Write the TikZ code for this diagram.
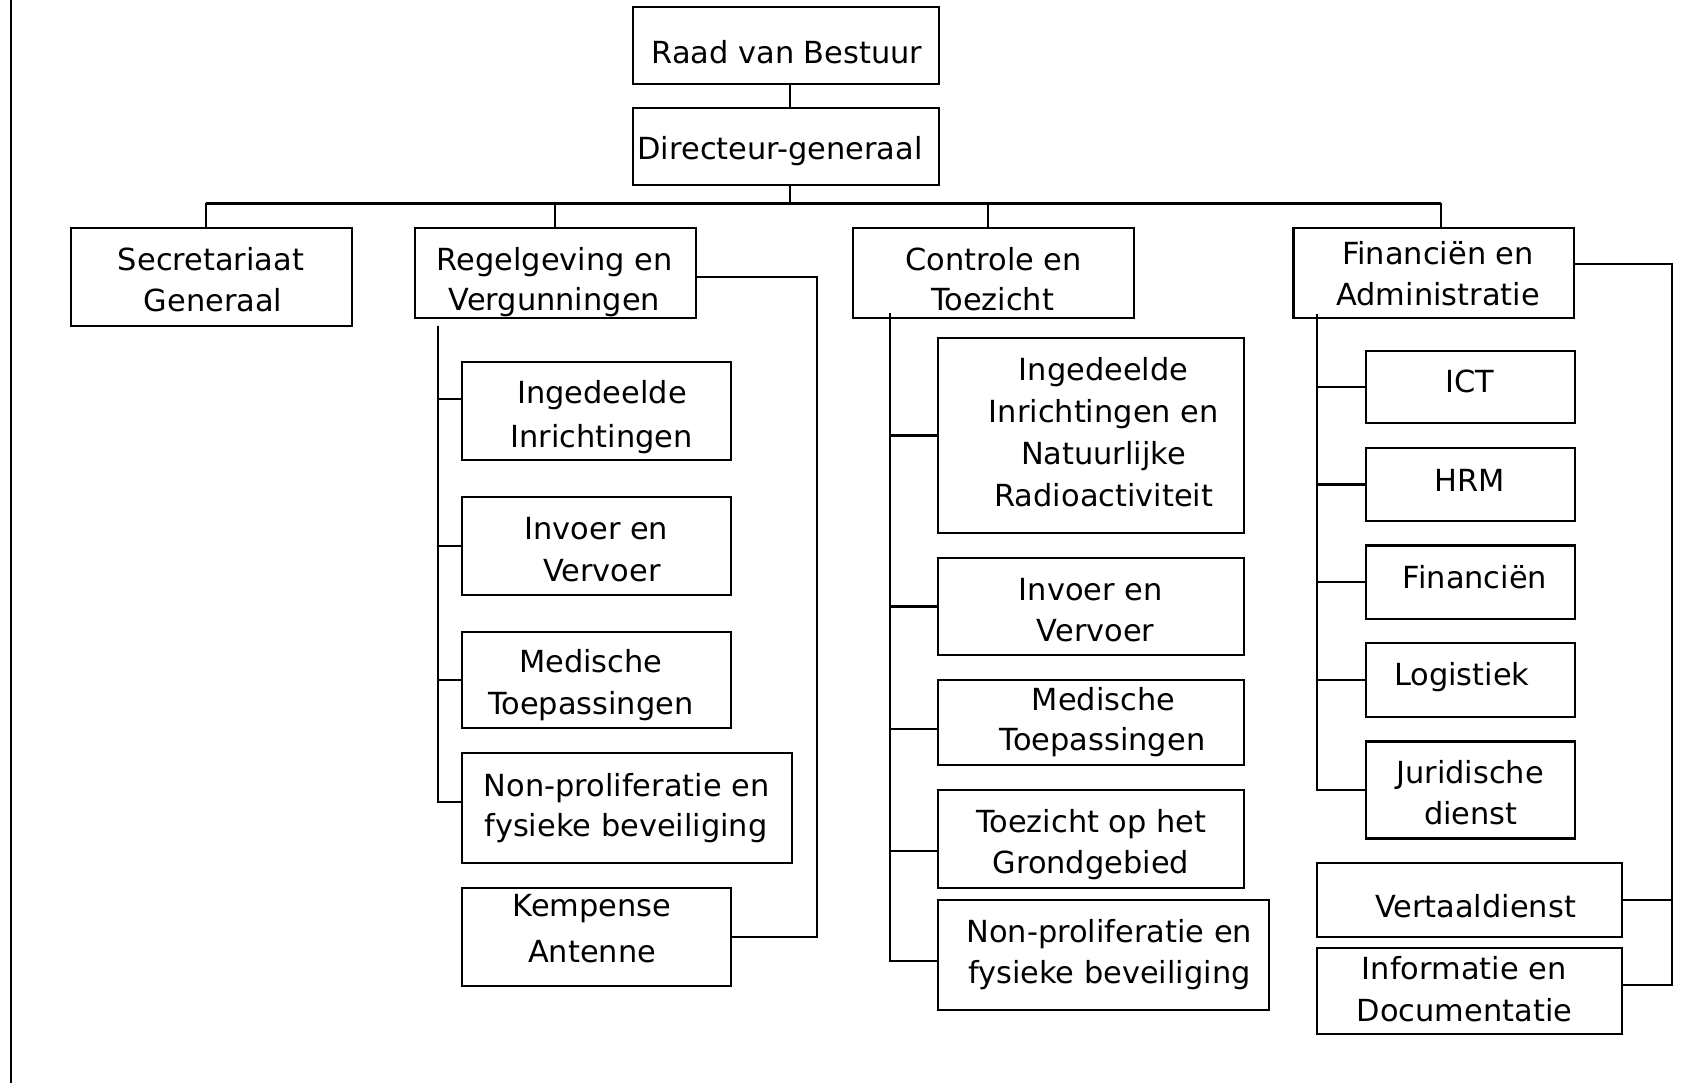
\documentclass[tikz,border=0pt]{standalone}
\usepackage{fontspec}
\setmainfont{DejaVu Sans}
\usetikzlibrary{fit}
\tikzset{
  box/.style={draw, line width=0.6pt, inner sep=0pt},
  lbl/.style={anchor=base, inner sep=0pt, font=\fontsize{8.65pt}{11pt}\selectfont},
  conn/.style={line width=0.6pt},
}
\newcommand\bx[5]{\node[box, fit={(#2,#3) (#4,#5)}] (#1) {};}
\newcommand\tl[4]{\node[lbl] (#1) at (#2,#3) {#4};}
\begin{document}
\begin{tikzpicture}[x=0.01cm,y=-0.01cm]
\useasboundingbox (0,0) rectangle (1706,1083);
% page frame line
\coordinate (ftop) at (11,0);
\coordinate (fbot) at (11,1083);
\draw[line width=0.8pt] (ftop) -- (fbot);

% top
\bx{raad}{632.7}{7.3}{939}{84.3}
\tl{traad}{787}{63.3}{Raad van Bestuur}
\bx{dg}{632.7}{107.7}{939}{185}
\tl{tdg}{780}{159.3}{Directeur-generaal}

% level 2
\bx{sec}{71.3}{227.7}{351.6}{325.7}
\tl{tsec1}{211}{271}{Secretariaat}
\tl{tsec2}{213}{311.7}{Generaal}
\bx{reg}{415}{227.7}{695.6}{318.3}
\tl{treg1}{554.6}{270.7}{Regelgeving en}
\tl{treg2}{554.3}{311}{Vergunningen}
\bx{con}{852.7}{227.7}{1133.7}{318.3}
\tl{tcon1}{993.8}{270.7}{Controle en}
\tl{tcon2}{992.6}{311}{Toezicht}
\bx{fin}{1293.5}{227.7}{1574}{317.7}
\tl{tfin1}{1438}{264.8}{Financiën en}
\tl{tfin2}{1438}{305.7}{Administratie}

% bus
\coordinate (bus) at (790,203.5);
\coordinate (d1) at (205.7,203.5);
\coordinate (d2) at (555,203.5);
\coordinate (d3) at (988.2,203.5);
\coordinate (d4) at (1440.7,203.5);
\draw[conn] (raad.south -| bus) -- (dg.north -| bus);
\draw[conn] (dg.south -| bus) -- (bus);
\draw[conn] (d1) -- (d4);
\draw[conn] (d1) -- (d1 |- sec.north);
\draw[conn] (d2) -- (d2 |- reg.north);
\draw[conn] (d3) -- (d3 |- con.north);
\draw[conn] (d4) -- (d4 |- fin.north);

% Regelgeving subtree
\bx{r1}{462}{362.3}{731.3}{460.3}
\tl{tr1a}{602}{403.3}{Ingedeelde}
\tl{tr1b}{601.7}{447.3}{Inrichtingen}
\bx{r2}{462}{497}{731.3}{594.7}
\tl{tr2a}{596.3}{539.3}{Invoer en}
\tl{tr2b}{602}{581.7}{Vervoer}
\bx{r3}{462}{631.7}{731.3}{728}
\tl{tr3a}{590.8}{672.4}{Medische}
\tl{tr3b}{590.8}{714.8}{Toepassingen}
\bx{r4}{461.7}{753.3}{792.3}{863.3}
\tl{tr4a}{626.7}{796.7}{Non-proliferatie en}
\tl{tr4b}{626.2}{836.7}{fysieke beveiliging}
\bx{r5}{461.7}{888.3}{731}{985.7}
\tl{tr5a}{592}{916.7}{Kempense}
\tl{tr5b}{592}{962.7}{Antenne}

\coordinate (rsp) at (437.7,325.7);
\coordinate (r1b) at ([yshift=0.123cm]r1.west);
\coordinate (r4b) at ([yshift=0.066cm]r4.west);
\draw[conn] (rsp) |- (r4b);
\draw[conn] (r1b) -- (r1b -| rsp);
\draw[conn] (r2.west) -- (r2.west -| rsp);
\draw[conn] (r3.west) -- (r3.west -| rsp);
\coordinate (rright) at (816.7,0);
\coordinate (regr) at ([yshift=-0.043cm]reg.east);
\draw[conn] (regr) -| (rright |- r5.east) -- (r5.east);

% Controle subtree
\bx{c1}{938.3}{337.7}{1244.3}{533.3}
\tl{tc1a}{1103.5}{380.7}{Ingedeelde}
\tl{tc1b}{1103.7}{422.3}{Inrichtingen en}
\tl{tc1c}{1103.5}{464.7}{Natuurlijke}
\tl{tc1d}{1103.8}{506.7}{Radioactiviteit}
\bx{c2}{938.3}{557.7}{1244.3}{655.3}
\tl{tc2a}{1090.8}{601}{Invoer en}
\tl{tc2b}{1095.6}{641.5}{Vervoer}
\bx{c3}{938.3}{680}{1244.3}{765.3}
\tl{tc3a}{1103.5}{710.7}{Medische}
\tl{tc3b}{1102.5}{751}{Toepassingen}
\bx{c4}{938.3}{790.3}{1244.3}{888}
\tl{tc4a}{1091.2}{832.7}{Toezicht op het}
\tl{tc4b}{1090.8}{873.3}{Grondgebied}
\bx{c5}{938.3}{900}{1269}{1010}
\tl{tc5a}{1109.3}{942.7}{Non-proliferatie en}
\tl{tc5b}{1109.3}{983.3}{fysieke beveiliging}

\coordinate (csp) at (890,313.3);
\coordinate (c3b) at ([yshift=-0.066cm]c3.west);
\coordinate (c4b) at ([yshift=-0.119cm]c4.west);
\coordinate (c5b) at ([yshift=-0.06cm]c5.west);
\draw[conn] (csp) |- (c5b);
\draw[conn] (c1.west) -- (c1.west -| csp);
\draw[conn] (c2.west) -- (c2.west -| csp);
\draw[conn] (c3b) -- (c3b -| csp);
\draw[conn] (c4b) -- (c4b -| csp);

% Financien subtree
\bx{f1}{1366}{350.6}{1574.7}{423.3}
\tl{tf1}{1470}{393}{ICT}
\bx{f2}{1366}{448}{1574.7}{521}
\tl{tf2}{1469.3}{491.1}{HRM}
\bx{f3}{1366}{545.5}{1574.7}{619.2}
\tl{tf3}{1475}{588.2}{Financiën}
\bx{f4}{1366}{643.3}{1574.7}{716.7}
\tl{tf4}{1461.7}{685.7}{Logistiek}
\bx{f5}{1366}{741.5}{1574.7}{838.5}
\tl{tf5a}{1470}{783.1}{Juridische}
\tl{tf5b}{1470.8}{825}{dienst}
\bx{f6}{1316.7}{863.3}{1622.3}{936.7}
\tl{tf6}{1475.5}{917.7}{Vertaaldienst}
\bx{f7}{1316.7}{948.3}{1622.3}{1034.3}
\tl{tf7a}{1464.2}{979.3}{Informatie en}
\tl{tf7b}{1464.5}{1021.7}{Documentatie}

\coordinate (fsp) at (1317.3,313.8);
\draw[conn] (fsp) |- (f5.west);
\draw[conn] (f1.west) -- (f1.west -| fsp);
\draw[conn] (f2.west) -- (f2.west -| fsp);
\draw[conn] (f3.west) -- (f3.west -| fsp);
\draw[conn] (f4.west) -- (f4.west -| fsp);
\coordinate (fright) at (1671.7,0);
\coordinate (finr) at ([yshift=0.083cm]fin.east);
\coordinate (f7c) at ([yshift=0.063cm]f7.east);
\draw[conn] (finr) -| (fright |- f7c) -- (f7c);
\draw[conn] (f6.east) -- (f6.east -| fright);
\end{tikzpicture}
\end{document}
